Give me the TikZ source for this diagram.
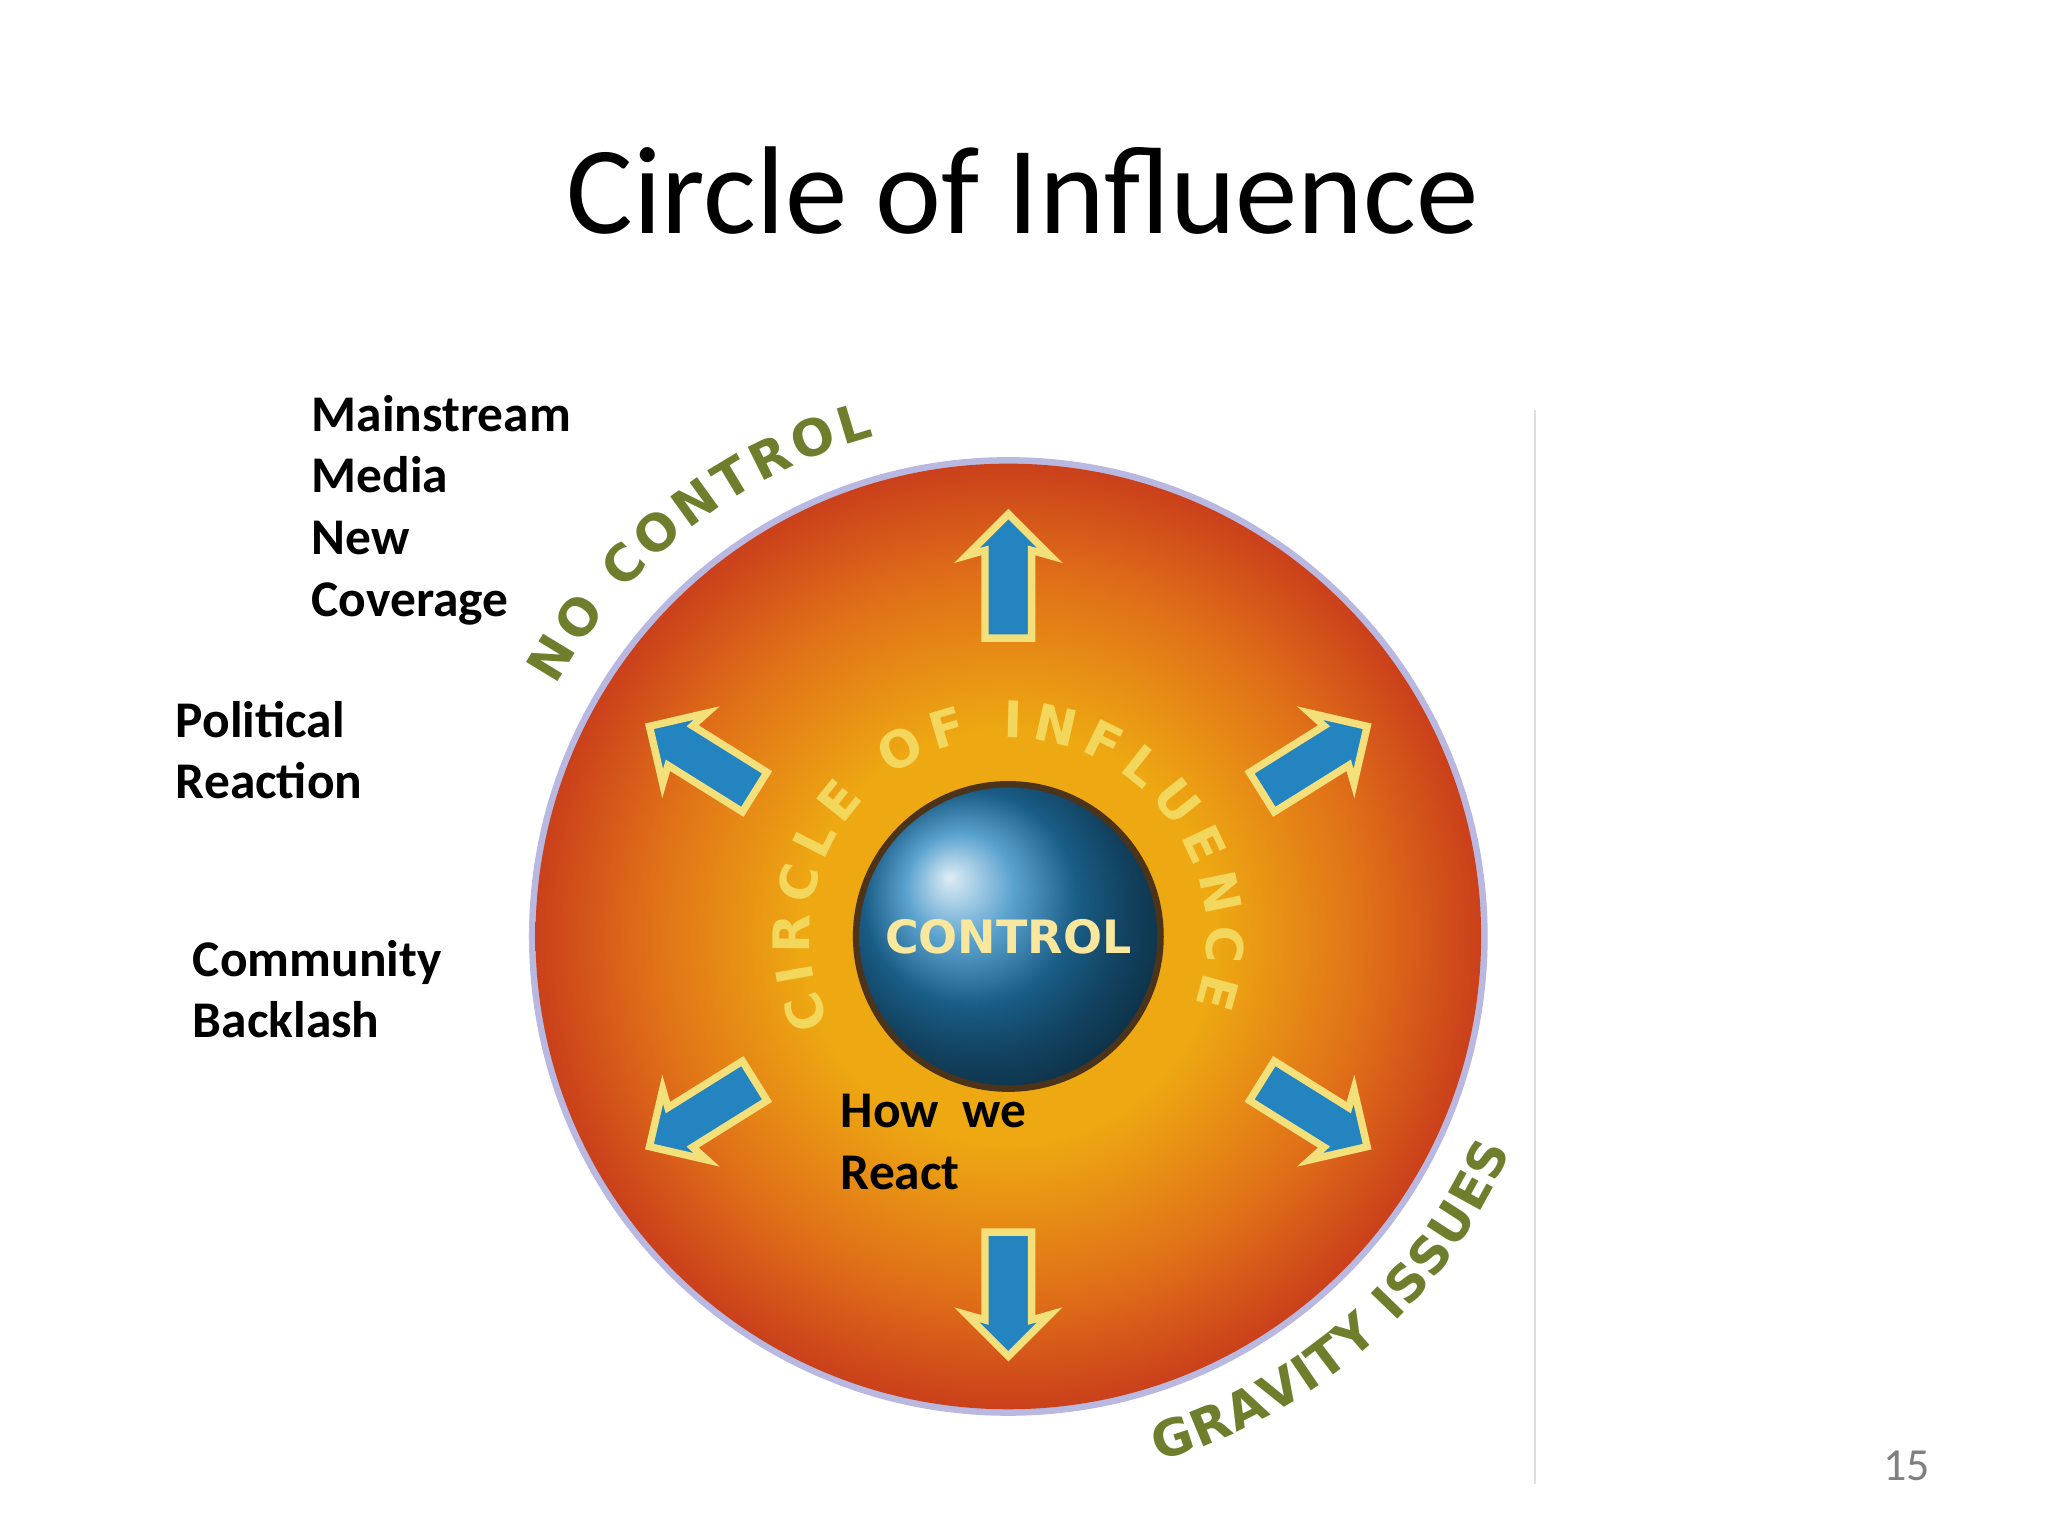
\documentclass[tikz,border=0pt]{standalone}
\usepackage{fontspec}
\setmainfont{Carlito}
\newfontfamily\arcfont{DejaVu Sans}
\usetikzlibrary{shapes.arrows,decorations.text,calc}
\definecolor{goldc}{HTML}{EDA812}
\definecolor{orangec}{HTML}{E07018}
\definecolor{redc}{HTML}{C3301C}
\definecolor{arrowblue}{HTML}{2484BF}
\definecolor{arrowedge}{HTML}{F4E07A}
\definecolor{greentext}{HTML}{6E7E2C}
\definecolor{lettery}{HTML}{F3D65C}
\pgfdeclareradialshading{influence}{\pgfpoint{0bp}{0bp}}{color(0bp)=(goldc); color(11bp)=(goldc); color(19bp)=(orangec); color(27bp)=(redc); color(35bp)=(redc!85!black); color(100bp)=(redc!85!black)}
\tikzset{
  blockarrow/.style={single arrow, draw=arrowedge, fill=arrowblue, line width=1.6pt,
    minimum height=0.95cm, inner xsep=0pt, inner ysep=0.15cm, single arrow head extend=0.14cm,
    single arrow head indent=0.04cm},
  label/.style={anchor=north west, align=left, font=\fontsize{11.2}{13.4}\selectfont\bfseries, inner sep=0pt}
}
\begin{document}
\begin{tikzpicture}[x=0.01cm,y=0.01cm]
\useasboundingbox[fill=white] (0,0) rectangle (1568,1176);
\coordinate (C) at (772,459);
\node (title) at (783,1030) {\fontsize{27.2}{27.2}\selectfont Circle of Influence};
% main disc
\fill[gray!60!blue!40] (C) circle[radius=367];
\shade[shading=influence] (C) circle[radius=362];
% ball
\fill[black!60!brown] (C) circle[radius=119];
\shade[ball color=arrowblue] (C) circle[radius=114];
\node (ctrl) at (C) {\arcfont\bfseries\fontsize{10}{10}\selectfont\textcolor{lettery!60!white}{CONTROL}};
% curved texts
\path[decorate, decoration={text along path, text align=fit to path, text color=lettery,
  text={|\arcfont\bfseries\fontsize{11}{11}\selectfont|CIRCLE OF INFLUENCE}}]
  (C) ++(206:152) arc[start angle=206, end angle=-20, radius=152];
\path[decorate, decoration={text along path, text align=fit to path, text color=greentext,
  text={|\arcfont\bfseries\fontsize{11}{11}\selectfont|NO CONTROL}}]
  (C) ++(151:396) arc[start angle=151, end angle=105, radius=396];
\path[decorate, decoration={text along path, text align=fit to path, text color=greentext,
  text={|\arcfont\bfseries\fontsize{11}{11}\selectfont|GRAVITY ISSUES}}]
  (C) ++(-74:418) arc[start angle=-74, end angle=-23, radius=418];
% arrows
\node[blockarrow, rotate=90] (a1) at ($(C)+(90:267)$) {};
\node[blockarrow, rotate=-90] (a2) at ($(C)+(-90:265)$) {};
\node[blockarrow, rotate=32] (a3) at ($(C)+(30:262)$) {};
\node[blockarrow, rotate=148] (a4) at ($(C)+(150:262)$) {};
\node[blockarrow, rotate=-148] (a5) at ($(C)+(210:262)$) {};
\node[blockarrow, rotate=-32] (a6) at ($(C)+(-30:262)$) {};
% labels
\node[label] (l1) at (238,874) {Mainstream\\Media\\New\\Coverage};
\node[label] (l2) at (134,640) {Political\\Reaction};
\node[label] (l3) at (147,457) {Community\\Backlash};
\node[label] (l4) at (643,339) {How\ \ we\\React};
% side line and page number
\draw[gray!25] (1175,862) -- (1175,40);
\node[text=gray] (pg) at (1460,54) {\fontsize{10}{10}\selectfont 15};
\end{tikzpicture}
\end{document}
